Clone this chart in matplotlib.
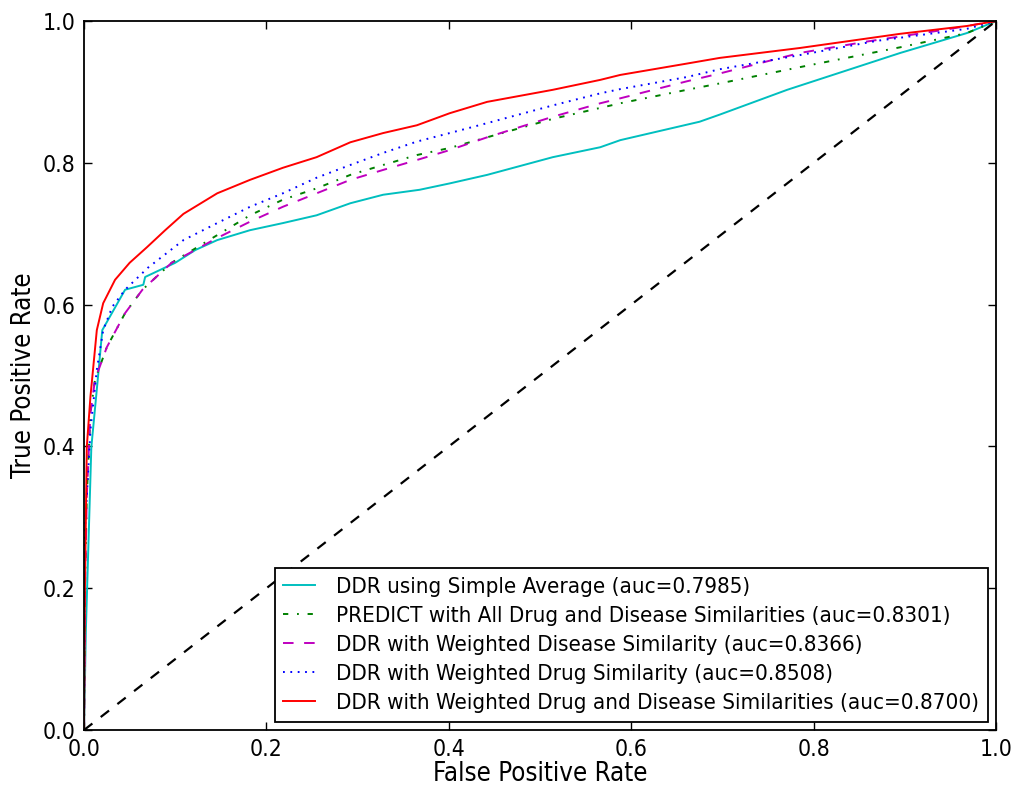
import numpy as np
import matplotlib
matplotlib.use("Agg")
import matplotlib.pyplot as plt
from matplotlib import font_manager

# ROC points (fpr, tpr)
fpr_avg = [0, 0.002, 0.008, 0.015, 0.02, 0.045, 0.065, 0.067, 0.1, 0.122, 0.146, 0.182,
           0.218, 0.255, 0.292, 0.328, 0.368, 0.401, 0.442, 0.514, 0.566, 0.588, 0.675,
           0.697, 0.771, 0.895, 0.968, 1.0]
tpr_avg = [0, 0.141, 0.399, 0.494, 0.564, 0.621, 0.628, 0.639, 0.659, 0.677, 0.691, 0.705,
           0.715, 0.726, 0.743, 0.755, 0.762, 0.771, 0.783, 0.808, 0.822, 0.832, 0.858,
           0.868, 0.903, 0.955, 0.983, 1.0]

fpr_predict = [0, 0.001, 0.003, 0.007, 0.012, 0.025, 0.045, 0.064, 0.096, 0.146, 0.182,
               0.218, 0.255, 0.292, 0.328, 0.365, 0.401, 0.442, 0.514, 0.588, 0.661, 0.697,
               0.785, 0.895, 0.968, 1.0]
tpr_predict = [0, 0.2, 0.329, 0.447, 0.494, 0.54, 0.588, 0.621, 0.659, 0.698, 0.726,
               0.748, 0.764, 0.783, 0.797, 0.811, 0.821, 0.836, 0.862, 0.884, 0.903, 0.912,
               0.935, 0.963, 0.983, 1.0]

fpr_disease = [0, 0.001, 0.003, 0.007, 0.012, 0.025, 0.045, 0.064, 0.096, 0.146, 0.182,
               0.218, 0.255, 0.292, 0.328, 0.365, 0.401, 0.442, 0.514, 0.566, 0.588, 0.661,
               0.697, 0.785, 0.858, 0.95, 1.0]
tpr_disease = [0, 0.2, 0.329, 0.447, 0.494, 0.54, 0.588, 0.621, 0.659, 0.694, 0.717,
               0.738, 0.757, 0.776, 0.79, 0.804, 0.818, 0.836, 0.865, 0.884, 0.891, 0.915,
               0.926, 0.955, 0.971, 0.989, 1.0]

fpr_drug = [0, 0.001, 0.007, 0.014, 0.021, 0.031, 0.045, 0.070, 0.109, 0.146, 0.182, 0.218,
            0.255, 0.292, 0.328, 0.365, 0.401, 0.442, 0.514, 0.566, 0.588, 0.661, 0.697,
            0.785, 0.869, 0.968, 1.0]
tpr_drug = [0, 0.282, 0.423, 0.508, 0.564, 0.597, 0.621, 0.652, 0.691, 0.715, 0.738, 0.757,
            0.779, 0.797, 0.814, 0.830, 0.842, 0.856, 0.881, 0.898, 0.904, 0.921, 0.932,
            0.952, 0.972, 0.989, 1.0]

fpr_both = [0, 0.001, 0.003, 0.007, 0.014, 0.021, 0.034, 0.050, 0.069, 0.089, 0.109, 0.146,
            0.182, 0.218, 0.255, 0.292, 0.328, 0.365, 0.401, 0.442, 0.514, 0.566, 0.588,
            0.661, 0.697, 0.785, 0.895, 0.968, 1.0]
tpr_both = [0, 0.2, 0.399, 0.47, 0.564, 0.602, 0.635, 0.659, 0.681, 0.705, 0.728, 0.757,
            0.776, 0.793, 0.808, 0.829, 0.842, 0.853, 0.870, 0.886, 0.903, 0.917, 0.924,
            0.940, 0.948, 0.962, 0.982, 0.993, 1.0]

labels = ["DDR using Simple Average (auc=0.7985)",
          "PREDICT with All Drug and Disease Similarities (auc=0.8301)",
          "DDR with Weighted Disease Similarity (auc=0.8366)",
          "DDR with Weighted Drug Similarity (auc=0.8508)",
          "DDR with Weighted Drug and Disease Similarities (auc=0.8700)"]

# old-style dash patterns, not scaled with line width
plt.rcParams['lines.scale_dashes'] = False
plt.rcParams['lines.dashed_pattern'] = [7.6, 7.6]
plt.rcParams['lines.dashdot_pattern'] = [3.8, 6.3, 1.3, 6.3]
plt.rcParams['lines.dotted_pattern'] = [1.3, 4.0]

# the reference text looks like the condensed DejaVu face
cond = font_manager.findfont(font_manager.FontProperties(family='DejaVu Sans', stretch='condensed'))
if 'Condensed' in cond:
    plt.rcParams['font.stretch'] = 'condensed'
    lab_fs, tick_fs, leg_fs = 18.5, 16.5, 16
else:
    lab_fs, tick_fs, leg_fs = 16.5, 15, 14.4

fig = plt.figure(figsize=(10.15, 7.88), dpi=100)
ax = fig.add_axes([0.0828, 0.0736, 0.8985, 0.8997])

lw = 1.4
ax.plot(fpr_avg, tpr_avg, color=(0, 0.75, 0.75), lw=lw, label=labels[0])
ax.plot(fpr_predict, tpr_predict, color=(0, 0.5, 0), ls='-.', lw=lw, label=labels[1])
ax.plot(fpr_disease, tpr_disease, color=(0.75, 0, 0.75), ls='--', lw=lw, label=labels[2])
ax.plot(fpr_drug, tpr_drug, color='b', ls=':', lw=lw, label=labels[3])
ax.plot(fpr_both, tpr_both, color='r', lw=lw, label=labels[4])
ax.plot([0, 1], [0, 1], 'k--', lw=1.6)

ax.set_xlim(0, 1)
ax.set_ylim(0, 1)
ax.set_xticks(np.arange(0, 1.01, 0.2))
ax.set_yticks(np.arange(0, 1.01, 0.2))
ax.tick_params(direction='in', top=True, right=True, length=6, width=1,
               labelsize=tick_fs, pad=6)
for s in ax.spines.values():
    s.set_linewidth(1.3)

ax.set_xlabel("False Positive Rate", fontsize=lab_fs, labelpad=0)
ax.set_ylabel("True Positive Rate", fontsize=lab_fs)

leg = ax.legend(loc='lower right', fontsize=leg_fs, fancybox=False, framealpha=1,
                edgecolor='black', handlelength=1.4, handletextpad=0.95,
                labelspacing=0.4, borderaxespad=0.38)
leg.get_frame().set_linewidth(1.3)

fig.savefig("out.png", dpi=100)
